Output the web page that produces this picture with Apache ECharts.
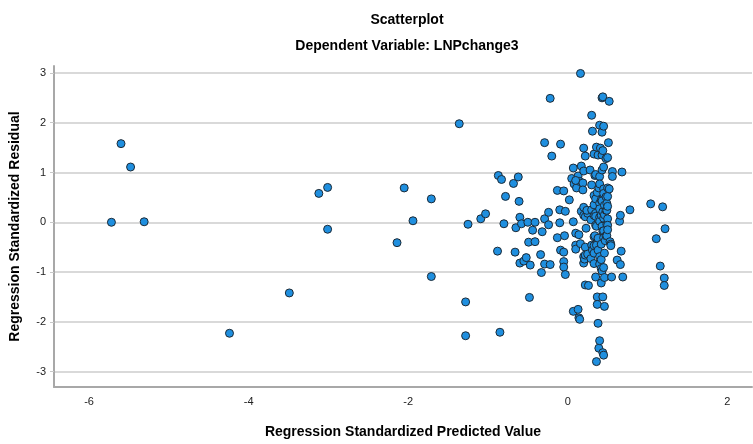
<!DOCTYPE html>
<html>
<head>
<meta charset="utf-8">
<script src="https://cdn.jsdelivr.net/npm/echarts@6/dist/echarts.min.js"></script>
<style>
  html, body { margin: 0; padding: 0; background: #fff; }
  #chart { width: 753px; height: 444px; }
</style>
</head>
<body>
<div id="chart"></div>
<script>
// Standardized predicted value (x) against standardized residual (y)
const predicted = [
  -5.72, -5.60, -5.48, -5.31, -4.24, -3.49, -3.12, -3.01, -3.01,
  -2.14, -2.05, -1.94, -1.71, -1.71, -1.36, -1.28, -1.28, -1.25, -1.09, -1.03,
  -0.87, -0.83, -0.85, -0.88, -0.80, -0.78, -0.68, -0.66, -0.65, -0.62, -0.61,
  -0.60, -0.60, -0.58, -0.55, -0.52, -0.50, -0.49, -0.48, -0.47,
  -0.44, -0.41, -0.41, -0.34, -0.33, -0.32, -0.29, -0.29, -0.29, -0.24, -0.24,
  -0.22, -0.22, -0.20, -0.13, -0.09, -0.05, -0.10, -0.03, -0.10, -0.09, -0.05,
  -0.13, -0.04, -0.05, -0.05, -0.03,
  0.02, 0.05, 0.07, 0.07, 0.07, 0.08, 0.10, 0.10, 0.10, 0.11, 0.13, 0.13, 0.14,
  0.15, 0.14, 0.15, 0.10, 0.16, 0.16, 0.17, 0.17, 0.19, 0.19, 0.20, 0.20, 0.20,
  0.20, 0.20, 0.20, 0.21, 0.22, 0.22, 0.22, 0.22, 0.22, 0.23, 0.25, 0.24, 0.25,
  0.26, 0.28, 0.29, 0.29, 0.30, 0.30, 0.30, 0.30, 0.31, 0.31, 0.33, 0.33, 0.33,
  0.33, 0.33, 0.33, 0.33, 0.33, 0.34, 0.34, 0.35, 0.35, 0.35, 0.35, 0.35, 0.35,
  0.36, 0.36, 0.36, 0.36, 0.37, 0.37, 0.37, 0.38, 0.38, 0.38, 0.38, 0.39, 0.39,
  0.40, 0.40, 0.40, 0.40, 0.40, 0.40, 0.40, 0.40, 0.40, 0.40, 0.41, 0.42, 0.42,
  0.42, 0.42, 0.42, 0.42, 0.43, 0.43, 0.43, 0.43, 0.43, 0.43, 0.43, 0.44, 0.44,
  0.44, 0.44, 0.44, 0.44, 0.45, 0.45, 0.45, 0.45, 0.45, 0.45, 0.45, 0.45, 0.45,
  0.46, 0.46, 0.46, 0.46, 0.46, 0.47, 0.48, 0.48, 0.48, 0.48, 0.49, 0.49, 0.49,
  0.49, 0.50, 0.50, 0.50, 0.50, 0.50, 0.50, 0.50, 0.51, 0.52, 0.52, 0.53, 0.54,
  0.54, 0.55, 0.56, 0.56, 0.62, 0.65, 0.66, 0.67, 0.66, 0.68, 0.69, 0.78,
  1.04, 1.19, 1.22, 1.11, 1.16, 1.21, 1.21
];
const residual = [
  0.00, 1.58, 1.11, 0.01, -2.23, -1.42, 0.58, 0.70, -0.14,
  -0.41, 0.69, 0.03, 0.47, -1.09, 1.98, -1.60, -2.28, -0.04, 0.07, 0.17,
  0.94, 0.86, -2.21, -0.58, -0.03, 0.52, 0.78, -0.60, -0.11, 0.91, 0.42,
  0.10, -0.82, -0.03, -0.78, -0.71, 0.00, -0.40, -1.51, -0.86,
  -0.16, 0.00, -0.39, -0.65, -1.01, -0.19, 0.07, -0.84, 1.60, 0.20, -0.05,
  2.49, -0.85, 1.33, 0.64, -0.56, -0.60, 0.25, 0.22, -0.01, 1.57, 0.63,
  -0.31, -0.27, -0.79, -0.90, -1.05,
  0.45, 0.88, 1.09, 0.01, -1.79, 0.77, -0.22, -0.46, -0.54, 0.69, -1.75, 0.93, -1.92,
  -1.95, -0.25, 0.82, 0.84, -0.43, 2.99, 1.13, 0.22, 0.79, 0.65, 1.49, 1.03, 0.30,
  0.14, -0.69, -0.82, -0.74, 1.33, 0.11, -0.50, -0.66, -1.26, -0.12, 0.18, 0.24, -0.64,
  -1.27, 1.05, -0.73, 0.05, 2.15, 0.75, 0.25, -0.46, 1.83, -0.56, 1.37, 0.54, 0.35,
  0.14, -0.29, -0.47, -0.62, -0.83, 0.94, -0.27, 0.47, 0.18, 0.12, 0.96, -0.06, -1.10,
  1.51, -0.08, -0.46, -2.80, 0.60, -1.50, -1.65, 1.35, -0.32, -0.56, -2.03, 0.69, -2.53,
  1.95, 0.92, 0.77, 0.38, 0.27, 0.10, 0.02, -0.69, -0.84, -2.38, 1.49, 0.45, 0.14,
  -0.44, -0.75, -0.93, -1.22, 2.50, 1.81, 1.35, 1.05, 0.43, -0.08, -0.98, 2.52, 1.44,
  0.21, -0.18, -1.50, -2.62, 1.93, 1.11, 0.67, 0.58, -0.17, -0.31, -0.91, -2.67, 0.08,
  0.15, 0.34, -0.62, -1.11, -1.69, -0.37, 1.28, 0.51, 0.24, -0.27, 0.38, 0.24, -0.04,
  -0.27, 1.30, 0.69, 0.52, 0.32, 0.07, -0.06, -0.15, 1.60, 2.43, 0.67, -0.39, -0.44,
  -0.47, -1.10, 1.02, 0.92, -0.76, 0.02, 0.14, -0.58, -0.85, 1.01, -1.10, 0.25,
  0.37, 0.31, -0.13, -0.33, -0.88, -1.12, -1.27
];

const xTicks = [-6, -4, -2, 0, 2];
const yTicks = [-3, -2, -1, 0, 1, 2, 3];

const points = predicted.map((x, i) => [x, residual[i]]);

const chart = echarts.init(document.getElementById('chart'), null, { renderer: 'canvas' });

const fontFamily = '"Liberation Sans", Arial, sans-serif';

chart.setOption({
  animation: false,
  backgroundColor: '#ffffff',
  textStyle: { fontFamily: fontFamily },
  title: {
    text: 'Scatterplot',
    subtext: 'Dependent Variable: LNPchange3',
    left: 402,
    textAlign: 'center',
    top: 8,
    itemGap: 12,
    textStyle: { fontFamily: fontFamily, fontSize: 14, fontWeight: 'bold', color: '#000' },
    subtextStyle: { fontFamily: fontFamily, fontSize: 14, fontWeight: 'bold', color: '#000' }
  },
  grid: { left: 52, right: 1, top: 66, bottom: 49, containLabel: false },
  xAxis: {
    type: 'value',
    min: -6.44,
    max: 2.31,
    name: 'Regression Standardized Predicted Value',
    nameLocation: 'middle',
    nameGap: 38,
    nameTextStyle: { fontFamily: fontFamily, fontSize: 14, fontWeight: 'bold', color: '#000' },
    axisLine: { show: true, onZero: false, lineStyle: { color: '#a8a8a8', width: 2 } },
    axisTick: { show: false, customValues: xTicks },
    axisLabel: { customValues: xTicks, margin: 9, fontSize: 11, color: '#222', fontFamily: fontFamily },
    splitLine: { show: false }
  },
  yAxis: {
    type: 'value',
    min: -3.31,
    max: 3.14,
    name: 'Regression Standardized Residual',
    nameLocation: 'middle',
    nameGap: 32,
    nameRotate: 90,
    nameTextStyle: { fontFamily: fontFamily, fontSize: 14, fontWeight: 'bold', color: '#000' },
    axisLine: { show: true, onZero: false, lineStyle: { color: '#a8a8a8', width: 2 } },
    axisTick: { show: true, customValues: yTicks, length: 4, lineStyle: { color: '#c8c8c8' } },
    axisLabel: { customValues: yTicks, margin: 8, fontSize: 11, color: '#222', fontFamily: fontFamily },
    splitLine: { show: true, lineStyle: { color: '#cdcdcd', width: 1.5 } }
  },
  series: [{
    type: 'scatter',
    data: points,
    symbol: 'circle',
    symbolSize: 8,
    itemStyle: { color: '#1f8fdf', borderColor: '#1c2a36', borderWidth: 1, opacity: 1 },
    emphasis: { disabled: true }
  }]
});
</script>
</body>
</html>
